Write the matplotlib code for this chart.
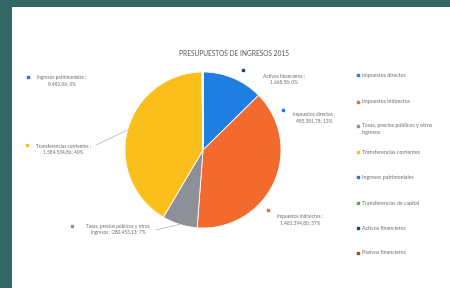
import matplotlib
matplotlib.use("Agg")
import matplotlib.pyplot as plt
from matplotlib.lines import Line2D
from matplotlib.patches import Rectangle
import numpy as np

plt.rcParams['font.family'] = ['Lato', 'DejaVu Sans']

# ---- data ----
categories = ["Impuestos directos", "Impuestos indirectos",
              "Tasas, precios públicos y otros ingresos", "Transferencias corrientes",
              "Ingresos patrimoniales", "Transferencias de capital",
              "Activos financieros", "Pasivos financieros"]
values = [485381.78, 1481394.80, 280453.13, 1584534.86, 8481.06, 0.0, 1668.58, 0.0]
value_text = ["485.381,78", "1.481.394,80", "280.453,13", "1.584.534,86",
              "8.481,06", "0", "1.668,58", "0"]
pct_text = ["13%", "37%", "7%", "40%", "0%", "0%", "0%", "0%"]
title = "PRESUPUESTOS DE INGRESOS 2015"

# ---- style ----
colors = ["#1f7fe0", "#f26a2e", "#8d9098", "#fbbf1c",
          "#2f6fd0", "#5aa845", "#24407a", "#a04a1a"]
txt_color = "#6a6a6a"
W, H = 450, 288

def fx(px): return px / W
def fy(py): return 1 - py / H

fig = plt.figure(figsize=(4.5, 2.88), dpi=100)
fig.patch.set_facecolor("white")
# photo background strips
fig.add_artist(Rectangle((0, fy(7)), 1, 7 / H, transform=fig.transFigure,
                         facecolor="#336666", edgecolor="none"))
fig.add_artist(Rectangle((0, 0), 12 / W, 1, transform=fig.transFigure,
                         facecolor="#336666", edgecolor="none"))

cx, cy, r = 203, 150, 78
ax = fig.add_axes([fx(cx - r), fy(cy + r), 2 * r / W, 2 * r / H])
wedges, _ = ax.pie(values, colors=colors, startangle=90, counterclock=False,
                   wedgeprops=dict(edgecolor="white", linewidth=0.6))
ax.set_aspect('auto')
ax.set_xlim(-1, 1)
ax.set_ylim(-1, 1)

fig.text(fx(234), fy(53), title, ha="center", va="center",
         fontsize=4.8, color="#555555")

# data labels (layout positions in pixels: text center x, first line y, dot x, dot y)
label_layout = {
    0: (314, 112, 283, 108, False),
    1: (300, 214, 268, 208, False),
    2: (118, 224, 72, 224, True),
    3: (63, 143, 27, 143, True),
    4: (62, 75, 28, 75, False),
    6: (284, 73, 243, 68, False),
}
for i, (tx, ty, dx, dy, leader) in label_layout.items():
    line1 = categories[i] + " ;"
    if i == 2:
        line1 = "Tasas, precios públicos y otros"
        line2 = "ingresos ; " + value_text[i] + "; " + pct_text[i]
    else:
        line2 = value_text[i] + "; " + pct_text[i]
    fig.text(fx(tx), fy(ty), line1 + "\n" + line2, ha="center", va="top",
             fontsize=3.4, color=txt_color, linespacing=1.3)
    fig.add_artist(Line2D([fx(dx)], [fy(dy + 2)], marker="s", markersize=1.6,
                          color=colors[i], transform=fig.transFigure))
    if leader:
        w = wedges[i]
        ang = np.deg2rad((w.theta1 + w.theta2) / 2)
        ex = cx + r * np.cos(ang)
        ey = cy - r * np.sin(ang)
        if i == 3:
            sx, sy = tx + 33, ty + 2
        else:
            sx, sy = tx + 38, ty + 6
        fig.add_artist(Line2D([fx(sx), fx(ex)], [fy(sy), fy(ey)],
                              color="#9a9a9a", linewidth=0.4,
                              transform=fig.transFigure))

# legend (manual, right side)
leg_y = [75, 102, 126, 152, 177, 203, 228, 253]
for i, name in enumerate(categories):
    y = leg_y[i]
    fig.add_artist(Line2D([fx(358)], [fy(y)], marker="s", markersize=1.6,
                          color=colors[i], transform=fig.transFigure))
    label = name
    if i == 2:
        label = "Tasas, precios públicos y otros\ningresos"
    fig.text(fx(362), fy(y - 2.5), label, ha="left", va="top",
             fontsize=3.8, color=txt_color, linespacing=1.4)

fig.savefig("out.png", dpi=100, facecolor="white")
